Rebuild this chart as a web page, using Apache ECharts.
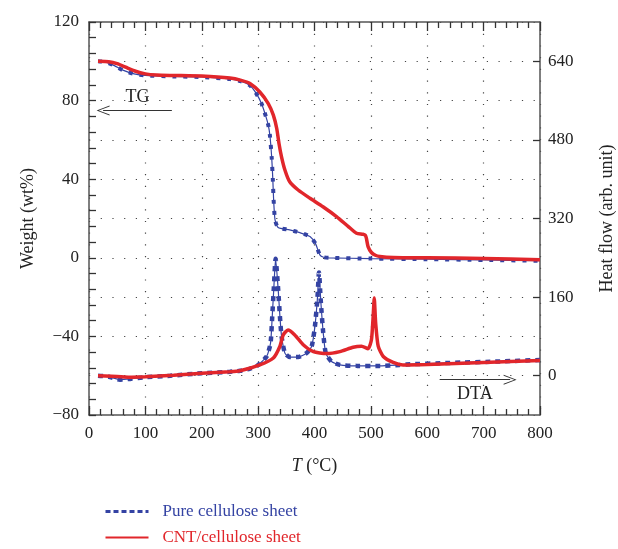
<!DOCTYPE html>
<html>
<head>
<meta charset="utf-8">
<script src="https://cdn.jsdelivr.net/npm/echarts@6/dist/echarts.min.js"></script>
<style>
    html, body { margin: 0; padding: 0; background: #fff; }
    #chart { width: 618px; height: 549px; }
</style>
</head>
<body>
<div id="chart"></div>
<script>
// TG 曲线 [T(°C), 失重 wt%]
var pureTG = [
    [16, 100], [30, 99.6], [45, 97.8], [60, 95.5], [80, 93.6], [100, 92.8], [150, 92.3],
    [200, 92], [250, 91], [270, 89.8], [285, 87.8], [296, 83.9], [306, 78.5], [313, 72.6],
    [318, 67.5], [321, 62], [324, 51.4], [326, 40.4], [327.5, 29.4], [330, 19.3], [335.5, 15.4],
    [356, 14.2], [374, 12.8], [392, 10.8], [402, 7.1], [409.5, 1.5], [416, 0.3], [425, 0],
    [500, -0.4], [600, -0.7], [700, -1.1], [800, -1.5]
];
var cntTG = [
    [16, 100], [35, 99.8], [50, 98.8], [65, 97], [80, 95.2], [100, 93.6], [120, 93], [150, 92.8],
    [200, 92.5], [250, 91.5], [270, 90.3], [285.5, 88.7], [303, 84.4], [318, 78.5], [327, 72.6],
    [333, 65.8], [337, 58.2], [341.5, 51.4], [347.5, 44.7], [356, 38.7], [371, 34.5], [392, 30.3],
    [415, 26], [439, 21], [460, 15.9], [474.5, 12.5], [486, 12], [490, 11.5], [492, 10], [495, 5.7],
    [501, 2.7], [508, 1.3], [516, 0.7], [540, 0.2], [600, 0], [700, -0.3], [800, -1]
];
// DTA 曲线 [T(°C), 热流 arb. unit]
var pureDTA = [
    [16, 0], [35, -2], [55, -8], [73, -6.5], [96, -3.5], [144, 0], [200, 5], [250, 8], [268, 10],
    [285, 14], [297, 19], [315, 39], [322, 66], [325, 120], [327.7, 175], [331, 238], [335.6, 175],
    [338.7, 120], [341.6, 80], [347.5, 46], [356, 38], [371, 38], [386, 46], [395, 60], [400.7, 100],
    [405, 154], [408, 210], [411, 154], [415.5, 87], [420, 46], [430, 29], [445, 22], [475, 20],
    [516, 20], [551, 22], [563, 23], [640, 26], [729, 29], [800, 32]
];
var cntDTA = [
    [16, 0], [40, -1], [70, -3], [100, -2], [150, 1], [200, 5], [250, 8], [268, 10], [303, 22],
    [327, 36], [338.7, 60], [344.5, 83], [353, 93], [365, 83], [380, 63], [398, 49], [421, 45],
    [445, 49], [468.5, 58], [483.5, 60], [495, 55], [501, 73], [504, 120], [506, 158], [508.5, 107],
    [513, 60], [522, 39], [539.5, 27], [557, 22], [600, 23], [700, 27], [800, 31]
];
var heatFlowTicks = [0, 160, 320, 480, 640];
// 注释箭头位置（Weight 轴坐标）
var tgArrow = [[25, 75], [147, 75]];
var dtaArrow = [[622, -62], [747, -62]];

var BLUE = '#3443a3';
var RED = '#e1262b';
var FONT = 'Liberation Serif';
var chevron = 'path://M0,20 L10,0 L20,20 L18,20 L10,3.5 L2,20 Z';

var myChart = echarts.init(document.getElementById('chart'));
var dotted = {color: '#444', width: 1.2, type: [1.2, 10.5]};
var tickStyle = {color: '#333', width: 1.3};
var axisLineStyle = {color: '#555', width: 1.5};

function minusSign(v) {
    return String(v).replace('-', '\u2212');
}

var option = {
    animation: false,
    textStyle: {fontFamily: FONT},
    grid: {left: 89, right: 78, top: 22, bottom: 134, outerBoundsMode: 'none', containLabel: false},
    legend: {
        orient: 'vertical',
        left: 104,
        top: 503,
        padding: 0,
        itemWidth: 43,
        itemHeight: 14,
        itemGap: 9,
        itemStyle: {opacity: 0},
        textStyle: {fontFamily: FONT, fontSize: 17, padding: [0, 0, 0, 9]},
        data: [
            {name: 'Pure cellulose sheet', textStyle: {color: BLUE},
             lineStyle: {color: BLUE, width: 3, type: [5, 3]}},
            {name: 'CNT/cellulose sheet', textStyle: {color: RED},
             lineStyle: {color: RED, width: 2}}
        ]
    },
    xAxis: [{
        type: 'value',
        min: 0, max: 800, interval: 100,
        name: '{i|T} (°C)',
        nameLocation: 'middle',
        nameGap: 42,
        nameTextStyle: {
            fontFamily: FONT, fontSize: 18, color: '#222',
            rich: {i: {fontFamily: FONT, fontSize: 18, fontStyle: 'italic', color: '#222'}}
        },
        axisLine: {onZero: false, lineStyle: axisLineStyle},
        axisTick: {inside: true, length: 9, lineStyle: tickStyle},
        minorTick: {show: true, splitNumber: 5, length: 6, lineStyle: tickStyle},
        axisLabel: {fontFamily: FONT, fontSize: 17, color: '#222', margin: 10},
        splitLine: {show: true, lineStyle: dotted}
    }, {
        type: 'value',
        position: 'top',
        min: 0, max: 800, interval: 100,
        axisLine: {onZero: false, lineStyle: axisLineStyle},
        axisTick: {inside: true, length: 9, lineStyle: tickStyle},
        minorTick: {show: true, splitNumber: 5, length: 6, lineStyle: tickStyle},
        axisLabel: {show: false},
        splitLine: {show: false}
    }],
    yAxis: [{
        type: 'value',
        min: -80, max: 120, interval: 40,
        name: 'Weight (wt%)',
        nameLocation: 'middle',
        nameGap: 52,
        nameTextStyle: {fontFamily: FONT, fontSize: 18, color: '#222'},
        axisLine: {show: true, onZero: false, lineStyle: axisLineStyle},
        axisTick: {inside: true, length: 7, lineStyle: tickStyle},
        minorTick: {show: true, splitNumber: 5, length: 7, lineStyle: tickStyle},
        axisLabel: {fontFamily: FONT, fontSize: 17, color: '#222', margin: 10, formatter: minusSign},
        splitLine: {show: false}
    }, {
        type: 'value',
        position: 'right',
        min: -80, max: 720, interval: 80,
        name: 'Heat flow (arb. unit)',
        nameLocation: 'middle',
        nameGap: 58,
        nameTextStyle: {fontFamily: FONT, fontSize: 18, color: '#222'},
        axisLine: {show: true, onZero: false, lineStyle: axisLineStyle},
        axisTick: {inside: true, length: 7, customValues: heatFlowTicks, lineStyle: tickStyle},
        axisLabel: {fontFamily: FONT, fontSize: 17, color: '#222', margin: 8, customValues: heatFlowTicks},
        splitLine: {show: false}
    }, {
        // 只用于画水平虚点网格线
        type: 'value',
        position: 'left',
        min: -80, max: 120, interval: 20,
        axisLine: {show: false, onZero: false},
        axisTick: {show: false},
        axisLabel: {show: false},
        splitLine: {show: true, lineStyle: dotted}
    }],
    series: [{
        name: 'pure-tg-thin',
        type: 'line',
        data: pureTG,
        yAxisIndex: 0,
        symbol: 'none',
        smooth: 0.2,
        lineStyle: {color: BLUE, width: 1.2},
        silent: true
    }, {
        name: 'Pure cellulose sheet',
        type: 'line',
        data: pureTG,
        yAxisIndex: 0,
        symbol: 'none',
        smooth: 0.2,
        itemStyle: {color: BLUE},
        lineStyle: {color: BLUE, width: 4, type: [4, 7]}
    }, {
        name: 'pure-dta-thin',
        type: 'line',
        data: pureDTA,
        yAxisIndex: 1,
        symbol: 'none',
        smooth: 0.2,
        lineStyle: {color: BLUE, width: 1.2},
        silent: true
    }, {
        name: 'Pure cellulose sheet',
        type: 'line',
        data: pureDTA,
        yAxisIndex: 1,
        symbol: 'none',
        smooth: 0.2,
        itemStyle: {color: BLUE},
        lineStyle: {color: BLUE, width: 4.5, type: [5, 5]}
    }, {
        name: 'CNT/cellulose sheet',
        type: 'line',
        data: cntTG,
        yAxisIndex: 0,
        symbol: 'none',
        smooth: 0.2,
        itemStyle: {color: RED},
        lineStyle: {color: RED, width: 3.5},
        markLine: {
            silent: true,
            symbolSize: [10, 13],
            lineStyle: {color: '#333', width: 1.2, type: 'solid'},
            label: {show: true, distance: 4, fontFamily: FONT, fontSize: 18, color: '#222'},
            data: [
                [{coord: tgArrow[0], symbol: chevron, label: {formatter: 'TG', position: 'insideMiddleTop'}},
                 {coord: tgArrow[1], symbol: 'none'}],
                [{coord: dtaArrow[0], symbol: 'none', label: {formatter: 'DTA', position: 'insideMiddleBottom', distance: 6}},
                 {coord: dtaArrow[1], symbol: chevron}]
            ]
        }
    }, {
        name: 'CNT/cellulose sheet',
        type: 'line',
        data: cntDTA,
        yAxisIndex: 1,
        symbol: 'none',
        smooth: 0.2,
        itemStyle: {color: RED},
        lineStyle: {color: RED, width: 3.5}
    }]
};
myChart.setOption(option, true);
</script>
</body>
</html>
